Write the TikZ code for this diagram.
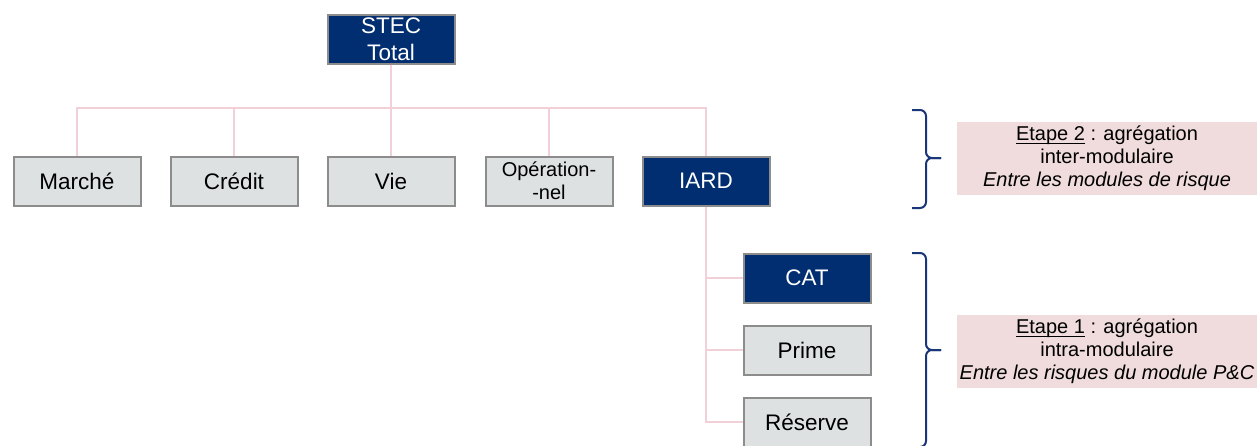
\documentclass[tikz,border=0pt]{standalone}
\usepackage{fontspec}
\setmainfont{Liberation Sans}
\usepackage{xcolor}

\definecolor{navy}{RGB}{0,46,112}
\definecolor{boxgray}{RGB}{221,225,225}
\definecolor{rimgray}{RGB}{140,140,140}
\definecolor{linkpink}{RGB}{242,208,215}
\definecolor{notepink}{RGB}{240,220,220}
\definecolor{bracenavy}{RGB}{25,55,120}

\begin{document}
\begin{tikzpicture}[x=0.5pt, y=-0.5pt,
  bx/.style={rectangle, draw=rimgray, line width=1pt,
    minimum width=63.5pt, minimum height=24.5pt, inner sep=0pt,
    align=center, font=\fontsize{11.25}{13.5}\selectfont},
  lite/.style={bx, fill=boxgray, text=black},
  dark/.style={bx, fill=navy, text=white},
  lnk/.style={draw=linkpink, line width=0.8pt},
  brc/.style={draw=bracenavy, line width=1pt, rounded corners=3pt},
  note/.style={rectangle, fill=notepink, minimum width=150pt,
    minimum height=36.5pt, inner sep=0pt, align=center,
    font=\fontsize{10}{11.5}\selectfont}
]
\useasboundingbox (0,0) rectangle (1257,445);

%% Top level
\node[dark] (stec) at (391,39) {STEC\\Total};

%% Risk modules (y = 181)
\node[lite] (marche) at ( 77,181) {Marché};
\node[lite] (credit) at (234,181) {Crédit};
\node[lite] (vie)    at (391,181) {Vie};
\node[lite, font=\fontsize{10}{11.5}\selectfont] (oper) at (549,181) {Opération-\\-nel};
\node[dark] (iard)   at (706,181) {IARD};

%% P&C sub-modules
\node[dark] (cat)     at (807,278) {CAT};
\node[lite] (prime)   at (807,350) {Prime};
\node[lite] (reserve) at (807,422) {Réserve};

\coordinate (bus) at (391,108);

%% STEC -> modules
\draw[lnk] (stec) -- (vie);
\draw[lnk] (marche.north) |- (bus) -| (iard.north);
\draw[lnk] (credit.north) -- (credit.north |- bus);
\draw[lnk] (oper.north)   -- (oper.north |- bus);

%% IARD -> sub-modules
\draw[lnk] (iard.south) |- (cat.west);
\draw[lnk] (iard.south) |- (prime.west);
\draw[lnk] (iard.south) |- (reserve.west);

%% Braces
\draw[brc] (912,110) -| (926,158) -- (941,158);
\draw[brc] (912,208) -| (926,158) -- (941,158);
\draw[brc] (912,253) -| (926,350) -- (941,350);
\draw[brc] (912,447) -| (926,350) -- (941,350);

%% Steps
\node[note] (etape2) at (1107,158.5) {\underline{\smash{Etape 2}} : agrégation\\inter-modulaire\\\textit{Entre les modules de risque}};
\node[note] (etape1) at (1107,351.5) {\underline{\smash{Etape 1}} : agrégation\\intra-modulaire\\\textit{Entre les risques du module P\&C}};

\end{tikzpicture}
\end{document}
